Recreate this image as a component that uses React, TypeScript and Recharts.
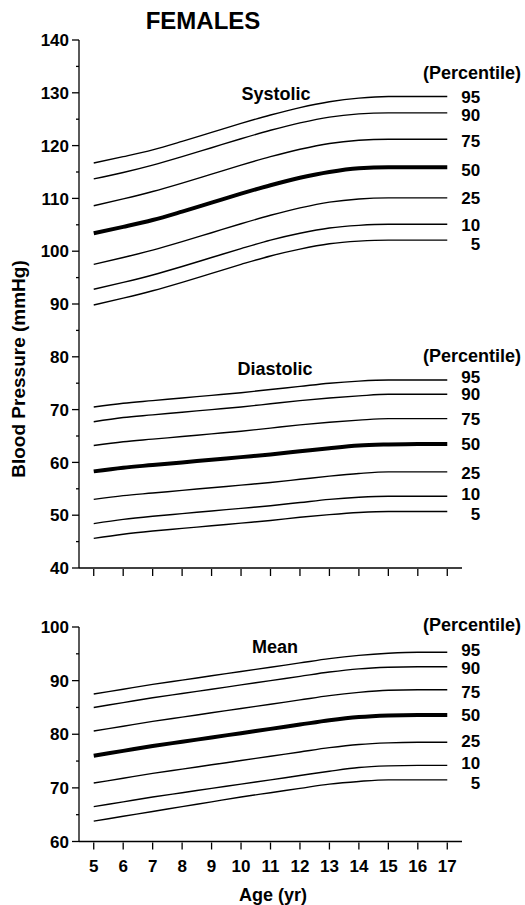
import { Line, LineChart, XAxis, YAxis } from "recharts";

const ages = [5, 6, 7, 8, 9, 10, 11, 12, 13, 14, 15, 16, 17];
const percentiles = ["95", "90", "75", "50", "25", "10", "5"];

// systolic, mmHg
const sys95 = [116.7, 117.9, 119.2, 120.8, 122.5, 124.2, 125.8, 127.2, 128.3, 129, 129.3, 129.3, 129.3];
const sys90 = [113.7, 114.9, 116.3, 117.9, 119.6, 121.3, 122.9, 124.3, 125.4, 126, 126.2, 126.2, 126.2];
const sys75 = [108.6, 109.9, 111.3, 112.9, 114.6, 116.3, 117.9, 119.3, 120.4, 121, 121.2, 121.2, 121.2];
const sys50 = [103.4, 104.6, 105.9, 107.5, 109.2, 110.9, 112.5, 113.9, 115, 115.7, 115.9, 115.9, 115.9];
const sys25 = [97.5, 98.8, 100.2, 101.8, 103.5, 105.2, 106.8, 108.2, 109.3, 109.9, 110.1, 110.1, 110.1];
const sys10 = [92.8, 94.1, 95.5, 97.1, 98.8, 100.5, 102.1, 103.4, 104.4, 104.9, 105.1, 105.1, 105.1];
const sys5 = [89.8, 91.1, 92.5, 94.1, 95.8, 97.5, 99.1, 100.4, 101.4, 101.9, 102.1, 102.1, 102.1];

// diastolic
const dia95 = [70.5, 71.2, 71.7, 72.2, 72.7, 73.2, 73.8, 74.4, 75, 75.4, 75.6, 75.6, 75.6];
const dia90 = [67.7, 68.5, 69, 69.5, 70, 70.5, 71.1, 71.7, 72.2, 72.6, 72.9, 72.9, 72.9];
const dia75 = [63.2, 63.9, 64.4, 64.9, 65.4, 65.9, 66.5, 67.1, 67.6, 68, 68.3, 68.3, 68.3];
const dia50 = [58.3, 59, 59.5, 60, 60.5, 61, 61.5, 62.1, 62.7, 63.2, 63.4, 63.5, 63.5];
const dia25 = [53, 53.7, 54.2, 54.7, 55.2, 55.7, 56.2, 56.8, 57.4, 57.9, 58.2, 58.2, 58.2];
const dia10 = [48.4, 49.2, 49.8, 50.3, 50.8, 51.3, 51.8, 52.4, 53, 53.4, 53.6, 53.6, 53.6];
const dia5 = [45.6, 46.4, 47, 47.5, 48, 48.5, 49, 49.6, 50.1, 50.5, 50.7, 50.7, 50.7];

// mean arterial
const mean95 = [87.5, 88.4, 89.3, 90.1, 90.9, 91.7, 92.5, 93.3, 94.1, 94.7, 95.1, 95.3, 95.3];
const mean90 = [85, 85.9, 86.8, 87.6, 88.4, 89.2, 90, 90.8, 91.6, 92.2, 92.5, 92.6, 92.6];
const mean75 = [80.6, 81.5, 82.4, 83.2, 84, 84.8, 85.6, 86.4, 87.2, 87.8, 88.2, 88.3, 88.3];
const mean50 = [76, 76.9, 77.8, 78.6, 79.4, 80.2, 81, 81.8, 82.6, 83.2, 83.5, 83.6, 83.6];
const mean25 = [70.9, 71.8, 72.7, 73.5, 74.3, 75.1, 75.9, 76.7, 77.5, 78.1, 78.4, 78.5, 78.5];
const mean10 = [66.5, 67.4, 68.3, 69.1, 69.9, 70.7, 71.5, 72.3, 73.1, 73.8, 74.1, 74.2, 74.2];
const mean5 = [63.8, 64.7, 65.6, 66.5, 67.4, 68.3, 69.1, 69.9, 70.7, 71.2, 71.5, 71.5, 71.5];

const topTicks = [40, 45, 50, 55, 60, 65, 70, 75, 80, 85, 90, 95, 100, 105, 110, 115, 120, 125, 130, 135, 140];
const bottomTicks = [60, 65, 70, 75, 80, 85, 90, 95, 100];

const systolic = [sys95, sys90, sys75, sys50, sys25, sys10, sys5];
const diastolic = [dia95, dia90, dia75, dia50, dia25, dia10, dia5];
const meanBP = [mean95, mean90, mean75, mean50, mean25, mean10, mean5];

const topRows = ages.map((age, i) => {
  const row: Record<string, number> = { age };
  percentiles.forEach((p, j) => {
    row["s" + p] = systolic[j][i];
    row["d" + p] = diastolic[j][i];
  });
  return row;
});

const bottomRows = ages.map((age, i) => {
  const row: Record<string, number> = { age };
  percentiles.forEach((p, j) => {
    row["m" + p] = meanBP[j][i];
  });
  return row;
});

const FONT = "'Liberation Sans', Arial, Helvetica, sans-serif";
const txt = { fontFamily: FONT, fontWeight: 700, fill: "#000" } as const;

const YTick = (props: any) => {
  const { x, y, payload } = props;
  const major = payload.value % 10 === 0;
  return (
    <g>
      <line x1={x - (major ? 7 : 3)} x2={x} y1={y} y2={y} stroke="#000" strokeWidth={1.3} />
      {major && (
        <text x={x - 10} y={y} dy="0.36em" textAnchor="end" fontSize={17} {...txt}>
          {payload.value}
        </text>
      )}
    </g>
  );
};

const XTickBare = (props: any) => {
  const { x, y } = props;
  return <line x1={x} x2={x} y1={y + 1} y2={y + 8} stroke="#000" strokeWidth={1.3} />;
};

const XTickLabeled = (props: any) => {
  const { x, y, payload } = props;
  return (
    <g>
      <line x1={x} x2={x} y1={y + 1} y2={y + 8} stroke="#000" strokeWidth={1.3} />
      <text x={x} y={y + 24} dy="0.36em" textAnchor="middle" fontSize={17} {...txt}>
        {payload.value}
      </text>
    </g>
  );
};

const endLabel = (p: string, dy: number) => (props: any) => {
  if (props.index !== ages.length - 1) return null;
  return (
    <text x={props.x + 33} y={props.y + dy} dy="0.36em" textAnchor="end" fontSize={17} {...txt}>
      {p}
    </text>
  );
};

const sysDy = [0, 2, 2, 3, 0, 1, 4];
const diaDy = [-3, 0, 0, 0, 1, -2, 2.5];
const meanDy = [-2, 1, 2, 0, -1, -2, 3.5];

const renderLines = (prefix: string, dys: number[]) =>
  percentiles.map((p, j) => (
    <Line
      key={prefix + p}
      type="monotone"
      dataKey={prefix + p}
      stroke="#000"
      strokeWidth={p === "50" ? 4 : 1.4}
      dot={false}
      activeDot={false}
      isAnimationActive={false}
      label={endLabel(p, dys[j])}
    />
  ));

export default function App() {
  return (
    <div style={{ position: "absolute", left: 0, top: 0, width: 525, height: 905, background: "#fff" }}>
      <div style={{ position: "absolute", left: 0, top: 0 }}>
        <LineChart width={525} height={590} data={topRows} margin={{ top: 40, right: 63, left: 0, bottom: 0 }}>
          <XAxis
            type="number"
            dataKey="age"
            domain={[4.5, 17.5]}
            ticks={ages}
            interval={0}
            height={22}
            tickSize={0}
            tickMargin={0}
            tickLine={false}
            tick={<XTickBare />}
            axisLine={{ stroke: "#000", strokeWidth: 1.3 }}
          />
          <YAxis
            type="number"
            domain={[40, 140]}
            ticks={topTicks}
            interval={0}
            width={79}
            tickSize={0}
            tickMargin={0}
            tickLine={false}
            tick={<YTick />}
            axisLine={{ stroke: "#000", strokeWidth: 1.3 }}
          />
          {renderLines("s", sysDy)}
          {renderLines("d", diaDy)}
          <text x={203} y={29} textAnchor="middle" fontSize={24} {...txt}>FEMALES</text>
          <text x={276} y={100} textAnchor="middle" fontSize={18} {...txt}>Systolic</text>
          <text x={275} y={375} textAnchor="middle" fontSize={18} {...txt}>Diastolic</text>
          <text x={521} y={79} textAnchor="end" fontSize={18} {...txt}>(Percentile)</text>
          <text x={521} y={362} textAnchor="end" fontSize={18} {...txt}>(Percentile)</text>
          <text x={18} y={369} dy="0.36em" textAnchor="middle" fontSize={19} transform="rotate(-90 18 369)" {...txt}>
            Blood Pressure (mmHg)
          </text>
        </LineChart>
      </div>
      <div style={{ position: "absolute", left: 0, top: 590 }}>
        <LineChart width={525} height={315} data={bottomRows} margin={{ top: 37, right: 63, left: 0, bottom: 0 }}>
          <XAxis
            type="number"
            dataKey="age"
            domain={[4.5, 17.5]}
            ticks={ages}
            interval={0}
            height={63.5}
            tickSize={0}
            tickMargin={0}
            tickLine={false}
            tick={<XTickLabeled />}
            axisLine={{ stroke: "#000", strokeWidth: 1.3 }}
          />
          <YAxis
            type="number"
            domain={[60, 100]}
            ticks={bottomTicks}
            interval={0}
            width={79}
            tickSize={0}
            tickMargin={0}
            tickLine={false}
            tick={<YTick />}
            axisLine={{ stroke: "#000", strokeWidth: 1.3 }}
          />
          {renderLines("m", meanDy)}
          <text x={275} y={63} textAnchor="middle" fontSize={18} {...txt}>Mean</text>
          <text x={521} y={41} textAnchor="end" fontSize={18} {...txt}>(Percentile)</text>
          <text x={273} y={311} textAnchor="middle" fontSize={18} {...txt}>Age (yr)</text>
        </LineChart>
      </div>
    </div>
  );
}
